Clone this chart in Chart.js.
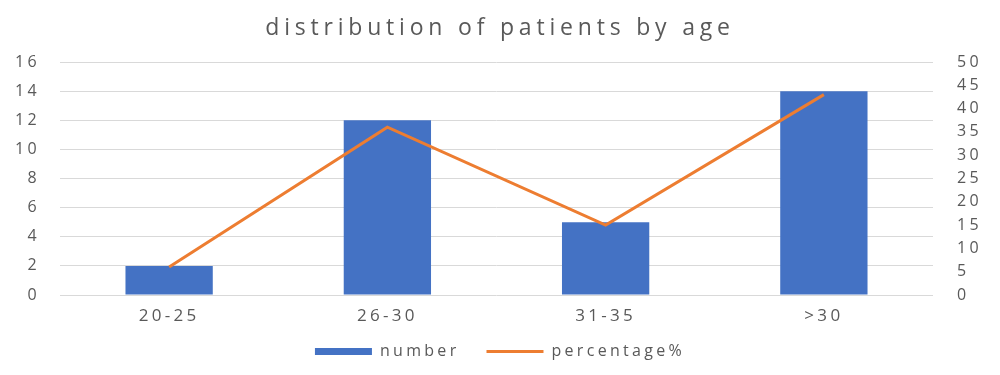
<!DOCTYPE html>
<html>
<head>
<meta charset="utf-8">
<script src="https://cdn.jsdelivr.net/npm/chart.js@4/dist/chart.umd.min.js"></script>
<style>
  html, body { margin: 0; padding: 0; background: #ffffff; }
  #wrap { width: 1000px; height: 375px; position: relative; }
</style>
</head>
<body>
<div id="wrap"><canvas id="c" width="1000" height="375"></canvas></div>
<script>
const categories = ['20-25', '26-30', '31-35', '>30'];
const numberValues = [2, 12, 5, 14];
const percentageValues = [6, 36, 15, 43];
const leftTicks = [0, 2, 4, 6, 8, 10, 12, 14, 16];
const rightTicks = [0, 5, 10, 15, 20, 25, 30, 35, 40, 45, 50];
const titleText = 'distribution of patients by age';

const textColor = '#595959';
const FONT = "'Open Sans', 'DejaVu Sans', sans-serif";
const BASE_SPACING = '3.3px';
const TITLE_SPACING = '4.8px';

function wrapSpacing(obj, method, px) {
  if (!obj || obj['_sp_' + method]) return;
  const orig = obj[method];
  obj[method] = function (...args) {
    const c = this.ctx;
    const prev = c.letterSpacing;
    c.letterSpacing = px;
    const r = orig.apply(this, args);
    c.letterSpacing = prev;
    return r;
  };
  obj['_sp_' + method] = true;
}

const spacingPlugin = {
  id: 'spacing',
  beforeUpdate(chart) { chart.ctx.letterSpacing = BASE_SPACING; },
  beforeLayout(chart) { chart.ctx.letterSpacing = BASE_SPACING; },
  beforeDraw(chart) {
    chart.ctx.letterSpacing = BASE_SPACING;
    wrapSpacing(chart.titleBlock, 'draw', TITLE_SPACING);
    // let the category labels extend below the (short) x-axis box without clipping
    if (chart.scales.x) chart.scales.x._computeLabelArea = function () { return undefined; };
  }
};

new Chart(document.getElementById('c'), {
  data: {
    labels: categories,
    datasets: [
      {
        type: 'line',
        label: 'percentage%',
        data: percentageValues,
        yAxisID: 'y1',
        borderColor: '#ED7D31',
        backgroundColor: '#ED7D31',
        borderWidth: 3,
        pointRadius: 0,
        pointHoverRadius: 0,
        pointStyle: 'line',
        tension: 0,
        order: 0
      },
      {
        type: 'bar',
        label: 'number',
        data: numberValues,
        yAxisID: 'y',
        backgroundColor: '#4472C4',
        borderWidth: 0,
        pointStyle: 'rect',
        barPercentage: 0.4,
        categoryPercentage: 1.0,
        order: 1
      }
    ]
  },
  plugins: [spacingPlugin],
  options: {
    responsive: false,
    animation: false,
    devicePixelRatio: 1,
    layout: { padding: { left: 0, right: 0, top: 0, bottom: 5.5 } },
    plugins: {
      title: {
        display: true,
        text: titleText,
        color: textColor,
        font: { family: FONT, size: 23, weight: 'normal' },
        padding: { top: 14.2, bottom: 20.2 }
      },
      legend: {
        display: true,
        position: 'bottom',
        reverse: true,
        labels: {
          usePointStyle: true,
          pointStyleWidth: 57,
          boxHeight: 7,
          padding: 27,
          color: textColor,
          font: { family: FONT, size: 16 }
        }
      },
      tooltip: { enabled: false }
    },
    scales: {
      x: {
        grid: { display: false, drawTicks: false },
        border: { display: false },
        ticks: { color: textColor, font: { family: FONT, size: 17 }, padding: 11 },
        afterFit(s) { s.height = 21.5; }
      },
      y: {
        position: 'left',
        min: 0,
        max: 16,
        afterBuildTicks(s) { s.ticks = leftTicks.map(v => ({ value: v })); },
        grid: { color: '#d9d9d9', lineWidth: 1, drawTicks: false },
        border: { display: false },
        ticks: { color: textColor, font: { family: FONT, size: 16 }, padding: 20 },
        afterFit(s) { s.width = 60; }
      },
      y1: {
        position: 'right',
        min: 0,
        max: 50,
        afterBuildTicks(s) { s.ticks = rightTicks.map(v => ({ value: v })); },
        grid: { display: false, drawTicks: false },
        border: { display: false },
        ticks: { color: textColor, font: { family: FONT, size: 16 }, padding: 24 },
        afterFit(s) { s.width = 67; }
      }
    }
  }
});
</script>
</body>
</html>
